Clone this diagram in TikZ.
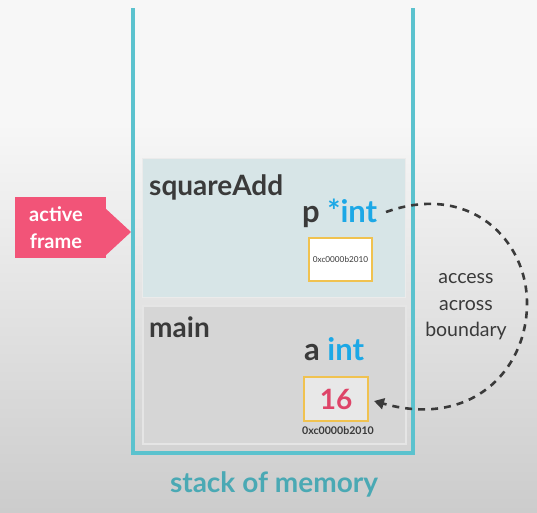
\documentclass[tikz,border=0pt]{standalone}
\usepackage{fontspec}
\setmainfont{Lato}
\usetikzlibrary{arrows.meta}
\definecolor{teal}{HTML}{5BC2CE}
\definecolor{tealtext}{HTML}{4AA9B4}
\definecolor{dark}{HTML}{3A3A3A}
\definecolor{blueint}{HTML}{1CA8E6}
\definecolor{pinkbox}{HTML}{F25478}
\definecolor{redval}{HTML}{DE4468}
\definecolor{goldline}{HTML}{F0C250}
\definecolor{topframe}{HTML}{D7E5E7}
\definecolor{botframe}{HTML}{D6D6D6}
\begin{document}
\begin{tikzpicture}[x=1pt,y=-1pt,
  lbl/.style={font=\bfseries\fontsize{28}{30}\selectfont, text=dark, inner sep=0pt},
  varlbl/.style={font=\bfseries\fontsize{31}{33}\selectfont, text=dark, inner sep=0pt},
  addr/.style={inner sep=0pt, text=dark},
  valbox/.style={draw=goldline, line width=2pt},
  dashconn/.style={draw=dark, line width=2.6pt, dash pattern=on 7pt off 6pt},
]
\useasboundingbox (0,0) rectangle (537,512);
\fill[white!97!black] (0,0) rectangle (537,120);
\shade[top color=white!97!black, bottom color=white!80!black] (0,120) rectangle (537,512);
% frames
\node[draw=white!92!black, line width=1pt, fill=topframe, minimum width=263pt, minimum height=139pt, anchor=north west] (topf) at (142,158) {};
\node[draw=white!90!black, line width=2pt, fill=botframe, minimum width=263pt, minimum height=138pt, anchor=north west] (botf) at (142,305) {};
% stack container
\draw[teal, line width=4pt] (133,8) -- (133,453) -- (413,453) -- (413,8);
% texts
\node[lbl, anchor=base west] (sq) at (149,195) {squareAdd};
\node[lbl, anchor=base west] (mn) at (149,337) {main};
\node[varlbl, anchor=base west] (pint) at (302,222) {p \textcolor{blueint}{*int}};
\node[varlbl, anchor=base west] (aint) at (304,360) {a \textcolor{blueint}{int}};
% address box
\node[valbox, fill=white, minimum width=63pt, minimum height=43pt, anchor=north west, inner sep=0pt] (pbox) at (308,237) {};
\node[addr, font=\fontsize{8.2}{9}\selectfont] (paddr) at (pbox.center) {0xc0000b2010};
\node[valbox, fill=white!91!black, minimum width=64pt, minimum height=44pt, anchor=north west, inner sep=0pt] (val) at (303,376) {};
\node[font=\bfseries\fontsize{28}{30}\selectfont, text=redval, inner sep=0pt] (sixteen) at (val.center) {16};
\node[addr, font=\bfseries\fontsize{10.6}{12}\selectfont] (aaddr) at (338,431) {0xc0000b2010};
% active frame
\fill[pinkbox] (15,197) rectangle (106,258);
\fill[pinkbox] (105,208) -- (131,232) -- (105,256) -- cycle;
\node[font=\bfseries\fontsize{20}{27}\selectfont, text=white, align=center, inner sep=0pt] (act) at (56,228) {active\\frame};
% connector
\coordinate (cs) at (386,212);
\coordinate (ce) at (374,401);
\draw[dashconn, -{Triangle[length=10pt,width=11pt]}]
  (cs) .. controls (470,182) and (528,240) .. (527,305)
       .. controls (526,372) and (470,428) .. (ce);
\node[font=\fontsize{19.5}{26.5}\selectfont, text=dark, align=center, inner sep=0pt] (acc) at (466,307) {access\\across\\boundary};
\node[font=\bfseries\fontsize{28}{30}\selectfont, text=tealtext, inner sep=0pt] (stk) at (274,484) {stack of memory};
\end{tikzpicture}
\end{document}
